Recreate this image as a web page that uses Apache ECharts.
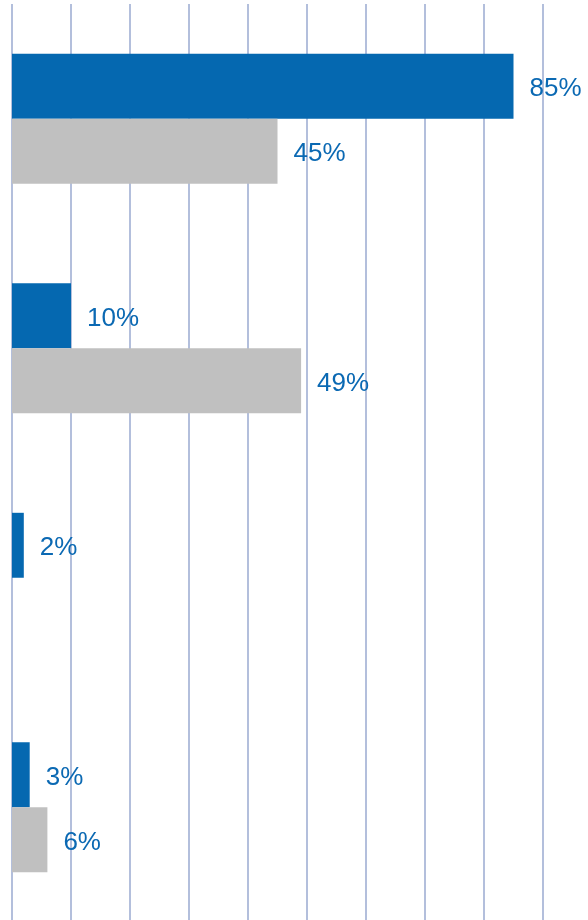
<!DOCTYPE html>
<html>
<head>
<meta charset="utf-8">
<script src="https://cdn.jsdelivr.net/npm/echarts@6/dist/echarts.min.js"></script>
<style>
  html, body { margin: 0; padding: 0; background: #fff; }
  #chart { width: 588px; height: 920px; }
</style>
</head>
<body>
<div id="chart"></div>
<script>
// Four groups, two series each, shown as percentages
const categories = ['A', 'B', 'C', 'D'];
const seriesBlue = [85, 10, 2, 3];
const seriesGray = [45, 49, null, 6];
const xTicks = [0, 10, 20, 30, 40, 50, 60, 70, 80, 90, 100];

const chart = echarts.init(document.getElementById('chart'), null, { renderer: 'canvas' });

const labelStyle = {
  show: true,
  position: 'right',
  distance: 16,
  offset: [0, 3],
  color: '#0B69B3',
  fontFamily: 'Liberation Sans, Arial, sans-serif',
  fontSize: 26,
  formatter: p => p.value + '%'
};

chart.setOption({
  animation: false,
  grid: { left: 12, top: 4, right: -14, bottom: -2, outerBoundsMode: 'none' },
  xAxis: {
    type: 'value',
    min: xTicks[0],
    max: xTicks[xTicks.length - 1],
    interval: 10,
    axisLine: { show: false },
    axisTick: { show: false },
    axisLabel: { show: false },
    splitLine: { show: true, lineStyle: { color: '#B3BFDC', width: 2 } }
  },
  yAxis: {
    type: 'category',
    data: categories,
    inverse: true,
    axisLine: { show: false },
    axisTick: { show: false },
    axisLabel: { show: false },
    splitLine: { show: false }
  },
  series: [
    {
      type: 'bar',
      data: seriesBlue,
      barGap: '0%',
      barCategoryGap: '43.4%',
      itemStyle: { color: '#0568B0' },
      label: labelStyle,
      z: 3
    },
    {
      type: 'bar',
      data: seriesGray,
      itemStyle: { color: '#C0C0C0' },
      label: labelStyle,
      z: 3
    }
  ]
});
</script>
</body>
</html>
